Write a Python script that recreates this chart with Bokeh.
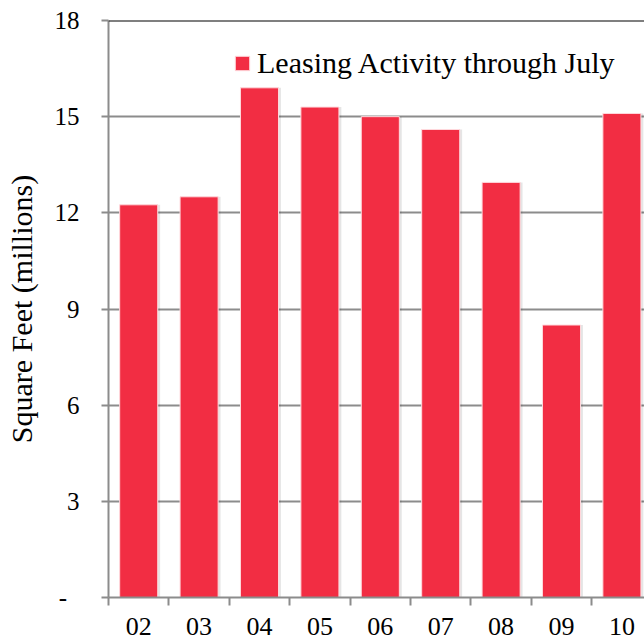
from bokeh.plotting import figure
from bokeh.models import (Range1d, FixedTicker, Span, Legend, LegendItem,
                          ColumnDataSource)
from bokeh.transform import dodge
from bokeh.embed import file_html
from bokeh.resources import INLINE

# Leasing activity through July, by year (millions of square feet)
years = ["02", "03", "04", "05", "06", "07", "08", "09", "10"]
leasing = [12.25, 12.5, 15.9, 15.3, 15.0, 14.6, 12.95, 8.5, 15.1]
y_ticks = [0, 3, 6, 9, 12, 15, 18]
y_tick_labels = ["-\u00a0\u00a0", "3", "6", "9", "12", "15", "18"]

FONT = "Liberation Serif"
BAR = "#F22D43"
AXIS_GRAY = "#8C8C8C"

centers = [i + 0.5 for i in range(len(years))]
src = ColumnDataSource(dict(x=centers, top=leasing, year=years))

p = figure(width=644, height=641, output_backend="svg", toolbar_location=None,
           x_range=Range1d(0, 8.874), y_range=Range1d(0, 18),
           min_border_left=108, min_border_right=0,
           min_border_top=20, min_border_bottom=44)
p.outline_line_color = None
p.background_fill_color = "white"
p.border_fill_color = "white"

# soft drop shadow behind each bar
p.vbar(x=dodge("x", 0.025, range=p.x_range), top="top", width=0.66, bottom=0,
       source=src, fill_color="black", fill_alpha=0.10, line_color=None)
bars = p.vbar(x="x", top="top", width=0.63, bottom=0, source=src,
              fill_color=BAR, line_color="#FFD9DD", line_width=1)

# top edge of the plot area
p.add_layout(Span(location=18, dimension="width", line_color="black",
                  line_width=2))

# x axis: tick marks between categories, labels centred on them
xax = p.xaxis[0]
xax.ticker = FixedTicker(ticks=centers, minor_ticks=list(range(len(years) + 1)))
xax.major_label_overrides = {c: y for c, y in zip(centers, years)}
xax.major_tick_line_color = None
xax.major_tick_out = 0
xax.major_tick_in = 0
xax.minor_tick_line_color = AXIS_GRAY
xax.minor_tick_line_width = 2
xax.minor_tick_out = 8
xax.minor_tick_in = 0
xax.axis_line_color = AXIS_GRAY
xax.axis_line_width = 2
xax.major_label_text_font = FONT
xax.major_label_text_font_size = "26px"
xax.major_label_text_color = "black"
xax.major_label_standoff = 12

yax = p.yaxis[0]
yax.ticker = FixedTicker(ticks=y_ticks, minor_ticks=[])
yax.major_label_overrides = {t: s for t, s in zip(y_ticks, y_tick_labels)}
yax.major_tick_line_color = AXIS_GRAY
yax.major_tick_line_width = 2
yax.major_tick_out = 7
yax.major_tick_in = 0
yax.minor_tick_line_color = None
yax.axis_line_color = AXIS_GRAY
yax.axis_line_width = 2
yax.major_label_text_font = FONT
yax.major_label_text_font_size = "25px"
yax.major_label_text_color = "black"
yax.major_label_standoff = 22
yax.axis_label = "Square Feet (millions)"
yax.axis_label_text_font = FONT
yax.axis_label_text_font_size = "30px"
yax.axis_label_text_font_style = "normal"
yax.axis_label_text_color = "black"
yax.axis_label_standoff = 14

p.xgrid.grid_line_color = None
p.ygrid.grid_line_color = AXIS_GRAY
p.ygrid.grid_line_width = 2

legend = Legend(items=[LegendItem(label="Leasing Activity through July",
                                  renderers=[bars])],
                location=(125, 517), orientation="horizontal",
                border_line_color=None, background_fill_alpha=0,
                padding=0, margin=0, spacing=0,
                glyph_width=18, glyph_height=18, label_standoff=6,
                label_text_font=FONT, label_text_font_size="30px",
                label_text_color="black")
p.add_layout(legend)

open("out.html", "w").write(file_html(p, INLINE))
